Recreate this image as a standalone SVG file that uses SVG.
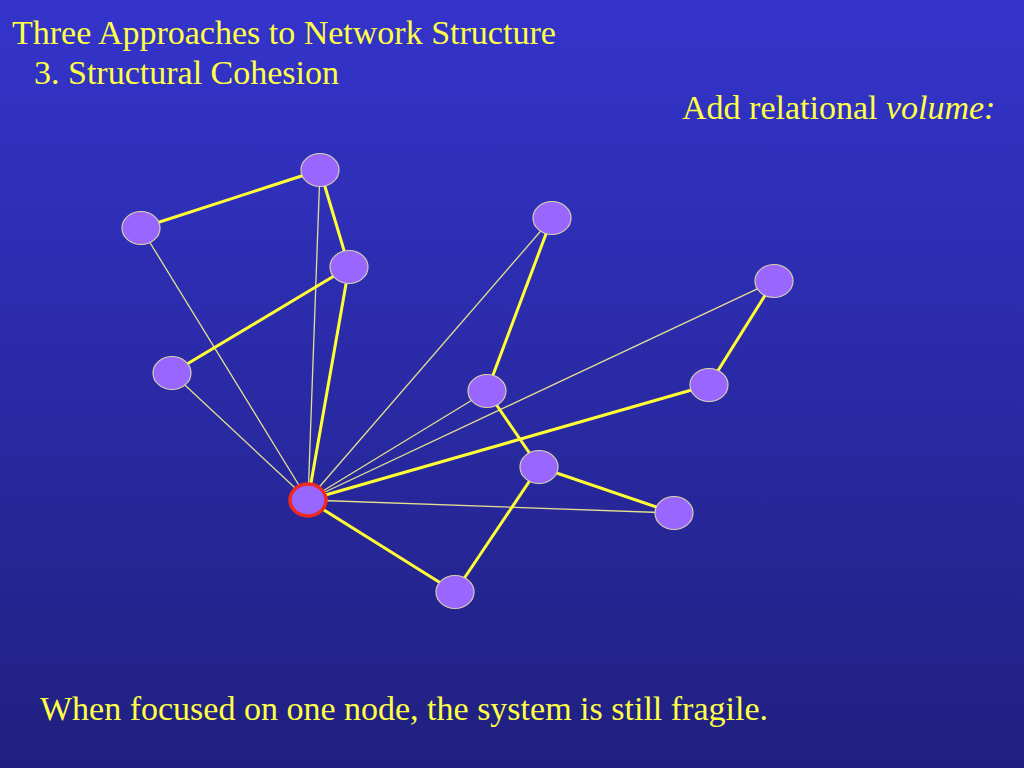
<svg xmlns="http://www.w3.org/2000/svg" width="1024" height="768" viewBox="0 0 1024 768">
<defs>
<linearGradient id="bg" x1="0" y1="0" x2="0" y2="1">
<stop offset="0" stop-color="#3434cc"/>
<stop offset="1" stop-color="#202080"/>
</linearGradient>
<style>
.t{font-family:"Liberation Serif","Times New Roman",serif;fill:#ffff44;}
.n{fill:#9966ff;stroke:#d8d0a8;stroke-width:1.2;}
.thick{stroke:#ffff33;stroke-width:3;}
.thin{stroke:#e4e090;stroke-width:1.3;}
</style>
</defs>
<rect width="1024" height="768" fill="url(#bg)"/>
<text class="t" x="12" y="44" font-size="34">Three Approaches to Network Structure</text>
<text class="t" x="34" y="84" font-size="34">3. Structural Cohesion</text>
<text class="t" x="682" y="119" font-size="34">Add relational <tspan font-style="italic">volume:</tspan></text>
<text class="t" x="40" y="720" font-size="34">When focused on one node, the system is still fragile.</text>
<g id="edges">
<line class="thin" x1="308" y1="500" x2="141" y2="228"/>
<line class="thin" x1="308" y1="500" x2="320" y2="170"/>
<line class="thin" x1="308" y1="500" x2="172" y2="373"/>
<line class="thin" x1="308" y1="500" x2="552" y2="218"/>
<line class="thin" x1="308" y1="500" x2="487" y2="391"/>
<line class="thin" x1="308" y1="500" x2="774" y2="281"/>
<line class="thin" x1="308" y1="500" x2="674" y2="513"/>
<line class="thick" x1="141" y1="228" x2="320" y2="170"/>
<line class="thick" x1="320" y1="170" x2="349" y2="267"/>
<line class="thick" x1="349" y1="267" x2="172" y2="373"/>
<line class="thick" x1="349" y1="267" x2="308" y2="500"/>
<line class="thick" x1="552" y1="218" x2="487" y2="391"/>
<line class="thick" x1="487" y1="391" x2="539" y2="467"/>
<line class="thick" x1="774" y1="281" x2="709" y2="385"/>
<line class="thick" x1="709" y1="385" x2="308" y2="500"/>
<line class="thick" x1="539" y1="467" x2="674" y2="513"/>
<line class="thick" x1="539" y1="467" x2="455" y2="592"/>
<line class="thick" x1="308" y1="500" x2="455" y2="592"/>
</g>
<g id="nA"><ellipse class="n" cx="141" cy="228" rx="19" ry="16.5"/></g>
<g id="nB"><ellipse class="n" cx="320" cy="170" rx="19" ry="16.5"/></g>
<g id="nC"><ellipse class="n" cx="349" cy="267" rx="19" ry="16.5"/></g>
<g id="nD"><ellipse class="n" cx="172" cy="373" rx="19" ry="16.5"/></g>
<g id="nE"><ellipse class="n" cx="552" cy="218" rx="19" ry="16.5"/></g>
<g id="nF"><ellipse class="n" cx="774" cy="281" rx="19" ry="16.5"/></g>
<g id="nG"><ellipse class="n" cx="487" cy="391" rx="19" ry="16.5"/></g>
<g id="nH"><ellipse class="n" cx="709" cy="385" rx="19" ry="16.5"/></g>
<g id="nI"><ellipse class="n" cx="539" cy="467" rx="19" ry="16.5"/></g>
<g id="nJ"><ellipse class="n" cx="674" cy="513" rx="19" ry="16.5"/></g>
<g id="nK"><ellipse class="n" cx="455" cy="592" rx="19" ry="16.5"/></g>
<g id="nX"><ellipse cx="308" cy="500" rx="18" ry="16" fill="#9966ff" stroke="#ee2a1e" stroke-width="3.5"/></g>
</svg>
